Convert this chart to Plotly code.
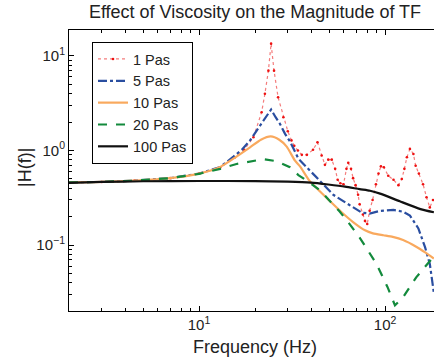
import plotly.graph_objects as go

# ---------------- data ----------------
f_1 = [2, 3, 4.5, 7, 10, 13, 15.5, 17.5, 19.6, 21.7, 22.6, 23.6, 24.4, 25.3, 26.6, 28.4, 30, 31.4, 32.5,
       34, 35.7, 38, 41, 43.3, 45.6, 47.5, 49.5, 51.7, 53.9, 55.6, 57.5, 59.8, 62, 63.4, 65.6, 67.3, 69.4,
       71.6, 73, 76, 78, 80.2, 82.6, 85.7, 89.3, 92.2, 95, 98.5, 104, 111, 118, 123, 127, 131, 136, 142,
       146, 152, 160, 167, 174, 181]
h_1 = [0.46, 0.465, 0.48, 0.51, 0.57, 0.66, 0.84, 1.02, 1.38, 2.54, 3.98, 7.0, 13.5, 7.0, 3.66, 2.25, 1.6,
       1.28, 1.12, 1.0, 0.9, 0.9, 1.02, 1.22, 0.885, 0.705, 0.80, 0.80, 0.64, 0.49, 0.45, 0.44, 0.64, 0.74,
       0.64, 0.51, 0.43, 0.34, 0.27, 0.21, 0.18, 0.167, 0.23, 0.30, 0.44, 0.57, 0.68, 0.665, 0.54, 0.49,
       0.43, 0.50, 0.64, 0.85, 1.04, 0.92, 0.69, 0.57, 0.44, 0.32, 0.25, 0.30]

f_5 = [2, 3, 4.5, 7, 10, 13, 15.3, 17, 18.8, 21.3, 23, 24.4, 25.8, 27.2, 29, 30.8, 34.2, 39.5, 45.6, 52.7,
       63.4, 75, 82.6, 94, 111, 125, 136, 151, 164, 174, 183]
h_5 = [0.46, 0.465, 0.48, 0.51, 0.57, 0.67, 0.86, 1.02, 1.28, 1.84, 2.3, 2.72, 2.25, 1.92, 1.5, 1.25, 0.82,
       0.61, 0.46, 0.34, 0.27, 0.22, 0.215, 0.23, 0.235, 0.225, 0.205, 0.15, 0.095, 0.063, 0.031]

f_10 = [2, 3, 4.5, 7, 10, 12.8, 15.3, 18.8, 21.5, 24.3, 27, 29.6, 32.8, 34.9, 39.2, 44, 50.7, 58, 67.3, 78,
        86, 98, 110, 125, 147, 165, 183]
h_10 = [0.46, 0.465, 0.48, 0.51, 0.57, 0.66, 0.82, 1.08, 1.3, 1.41, 1.3, 1.1, 0.78, 0.68, 0.48, 0.38, 0.29,
        0.225, 0.175, 0.143, 0.133, 0.127, 0.122, 0.113, 0.096, 0.083, 0.072]

f_20 = [2, 3, 4.5, 7, 10, 13, 15.9, 18.8, 22.2, 26.2, 30.8, 34.2, 39.5, 44.8, 50.7, 57, 63.4, 73, 90, 103,
        113, 125, 147, 174, 183]
h_20 = [0.46, 0.465, 0.48, 0.51, 0.567, 0.64, 0.72, 0.77, 0.81, 0.77, 0.665, 0.55, 0.455, 0.377, 0.29,
        0.226, 0.174, 0.12, 0.063, 0.036, 0.023, 0.028, 0.0455, 0.0687, 0.076]

f_100 = [2, 3, 5, 10, 20, 30, 40, 49.5, 61, 73, 83, 94, 120, 155, 183]
h_100 = [0.455, 0.465, 0.473, 0.476, 0.474, 0.468, 0.457, 0.437, 0.415, 0.39, 0.375, 0.35, 0.29, 0.24,
         0.222]

series_names = ["1 Pas", "5 Pas", "10 Pas", "20 Pas", "100 Pas"]

x_tick_vals = [10, 100]
x_tick_text = ["10<sup>1</sup>", "10<sup>2</sup>"]
y_tick_vals = [0.1, 1, 10]
y_tick_text = ["10<sup>\u22121</sup>", "10<sup>0</sup>", "10<sup>1</sup>"]

x_minor = [m * 10 ** e for e in range(0, 3) for m in range(2, 10)]
y_minor = [m * 10 ** e for e in range(-2, 2) for m in range(2, 10)]

title_text = "Effect of Viscosity on the Magnitude of TF"
x_title = "Frequency (Hz)"
y_title = "|H(f)|"

# ---------------- figure ----------------
FONT = "Liberation Sans, Arial, Helvetica, sans-serif"
TXT = "#222222"

fig = go.Figure()
fig.add_trace(go.Scatter(x=f_1, y=h_1, name=series_names[0], mode="lines+markers",
                         line=dict(color="rgba(240,70,70,0.7)", width=1.2, dash="dot"),
                         marker=dict(color="#ee1111", size=2.6)))
fig.add_trace(go.Scatter(x=f_5, y=h_5, name=series_names[1], mode="lines",
                         line=dict(color="#2a4ea0", width=2.2, dash="dashdot")))
fig.add_trace(go.Scatter(x=f_10, y=h_10, name=series_names[2], mode="lines",
                         line=dict(color="#f9a95e", width=2.2, shape="spline", smoothing=0.6)))
fig.add_trace(go.Scatter(x=f_20, y=h_20, name=series_names[3], mode="lines",
                         line=dict(color="#138a3c", width=2.2, dash="dash")))
fig.add_trace(go.Scatter(x=f_100, y=h_100, name=series_names[4], mode="lines",
                         line=dict(color="#111111", width=2.2, shape="spline", smoothing=0.6)))

W, H = 434, 363
L, R, T, B = 69, 0, 30, 52

fig.update_layout(
    width=W, height=H,
    margin=dict(l=L, r=R, t=T, b=B),
    paper_bgcolor="white", plot_bgcolor="white",
    font=dict(family=FONT, size=14, color=TXT),
    title=dict(text=title_text, x=255 / W, xref="container", xanchor="center",
               y=1 - 12 / H, yref="container", yanchor="middle",
               font=dict(family=FONT, size=18, color=TXT)),
    showlegend=True,
    legend=dict(x=(92 - L) / (W - L - R), y=(H - B - 42) / (H - T - B), xanchor="left", yanchor="top",
                bgcolor="white", bordercolor="black", borderwidth=1,
                font=dict(family=FONT, size=14.5, color=TXT)),
    xaxis=dict(type="log", range=[0.30103, 2.263], showgrid=False, zeroline=False,
               showline=True, linecolor="black", linewidth=1, mirror="ticks",
               ticks="inside", ticklen=5, tickcolor="black",
               tickvals=x_tick_vals, ticktext=x_tick_text,
               tickfont=dict(family=FONT, size=15, color=TXT),
               minor=dict(tickvals=x_minor, ticks="inside", ticklen=3, tickcolor="black", showgrid=False)),
    yaxis=dict(type="log", range=[-1.698, 1.275], showgrid=False, zeroline=False,
               showline=True, linecolor="black", linewidth=1, mirror=False,
               ticks="inside", ticklen=5, tickcolor="black",
               tickvals=y_tick_vals, ticktext=y_tick_text,
               tickfont=dict(family=FONT, size=15, color=TXT),
               minor=dict(tickvals=y_minor, ticks="inside", ticklen=3, tickcolor="black", showgrid=False)),
    annotations=[
        dict(text=x_title, xref="paper", yref="paper", x=(255 - L) / (W - L - R), y=(H - B - 347) / (H - T - B),
             xanchor="center", yanchor="middle", showarrow=False,
             font=dict(family=FONT, size=18, color=TXT)),
        dict(text=y_title, xref="paper", yref="paper", x=(25 - L) / (W - L - R), y=(H - B - 168) / (H - T - B),
             xanchor="center", yanchor="middle", showarrow=False, textangle=-90,
             font=dict(family=FONT, size=18, color=TXT)),
    ],
)

fig.write_html("out.html")
